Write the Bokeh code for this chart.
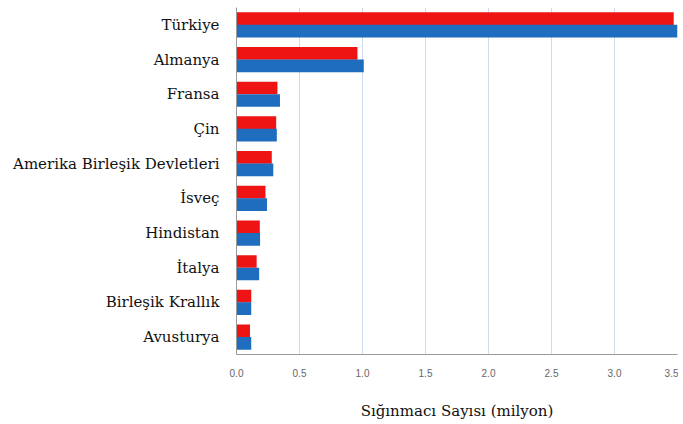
from bokeh.plotting import figure
from bokeh.models import ColumnDataSource, FactorRange, Range1d, FixedTicker, CustomJSTickFormatter
from bokeh.transform import dodge
from bokeh.embed import file_html
from bokeh.resources import INLINE

countries = ["Türkiye", "Almanya", "Fransa", "Çin", "Amerika Birleşik Devletleri",
             "İsveç", "Hindistan", "İtalya", "Birleşik Krallık", "Avusturya"]
series_red = [3.47, 0.96, 0.325, 0.315, 0.28, 0.23, 0.185, 0.16, 0.117, 0.107]
series_blue = [3.50, 1.01, 0.345, 0.32, 0.292, 0.242, 0.187, 0.18, 0.117, 0.117]
x_ticks = [0.0, 0.5, 1.0, 1.5, 2.0, 2.5, 3.0, 3.5]
x_title = "Sığınmacı Sayısı (milyon)"

src = ColumnDataSource(dict(country=countries, red=series_red, blue=series_blue))

p = figure(width=678, height=422, output_backend="svg", toolbar_location=None,
           y_range=FactorRange(factors=list(reversed(countries))),
           x_range=Range1d(0, 3.5))
p.min_border_left = 236
p.min_border_right = 1
p.min_border_top = 7
p.min_border_bottom = 64
p.outline_line_color = None
p.background_fill_color = "white"
p.border_fill_color = "white"

p.hbar(y=dodge("country", 0.18, range=p.y_range), right="red", left=0, height=0.365,
       source=src, fill_color="#ee1414", line_color=None)
p.hbar(y=dodge("country", -0.18, range=p.y_range), right="blue", left=0, height=0.365,
       source=src, fill_color="#1f6dbf", line_color=None)

p.xaxis.ticker = FixedTicker(ticks=x_ticks)
p.xaxis.formatter = CustomJSTickFormatter(code="return tick.toFixed(1);")
p.xaxis.axis_label = x_title
p.xaxis.axis_label_text_font = "DejaVu Serif"
p.xaxis.axis_label_text_font_style = "normal"
p.xaxis.axis_label_text_font_size = "15px"
p.xaxis.axis_label_text_color = "#111111"
p.xaxis.axis_label_standoff = 22
p.xaxis.major_label_text_font = "Liberation Sans"
p.xaxis.major_label_text_font_size = "10px"
p.xaxis.major_label_text_color = "#666666"
p.xaxis.major_label_standoff = 8
p.xaxis.major_tick_line_color = None
p.xaxis.minor_tick_line_color = None
p.xaxis.axis_line_color = "#9a9a9a"

p.yaxis.major_label_text_font = "DejaVu Serif"
p.yaxis.major_label_text_font_size = "15px"
p.yaxis.major_label_text_color = "#111111"
p.yaxis.major_label_standoff = 11
p.yaxis.major_tick_line_color = None
p.yaxis.minor_tick_line_color = None
p.yaxis.axis_line_color = "#9a9a9a"

p.ygrid.grid_line_color = None
p.xgrid.grid_line_color = "#cddbeb"
p.xgrid.grid_line_width = 1

open("out.html", "w").write(file_html(p, INLINE))
